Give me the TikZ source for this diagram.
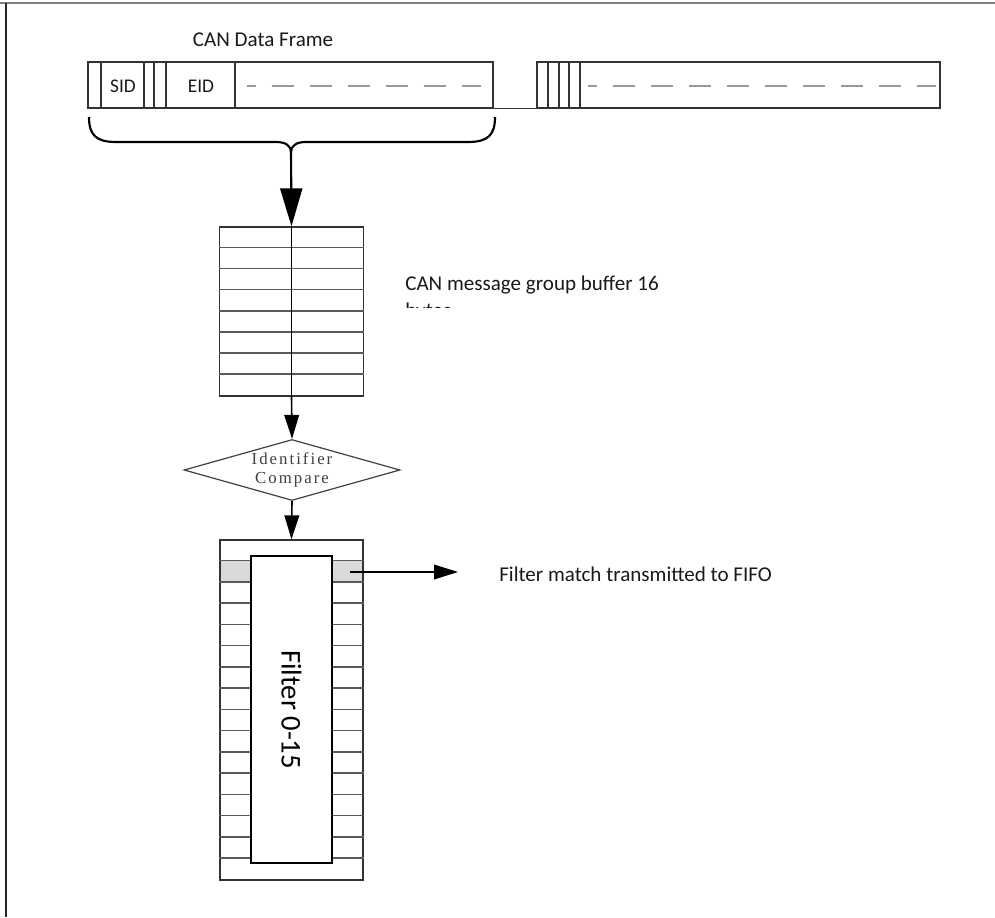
\documentclass[tikz,border=0pt]{standalone}
\usepackage{fontspec}
\setmainfont{Carlito}
\newfontfamily\idfont[LetterSpace=12]{Liberation Serif}
\usetikzlibrary{arrows.meta,shapes.geometric,calc}
\begin{document}
\begin{tikzpicture}[x=0.75pt,y=-0.75pt,
  frame/.style={draw=black!80, line width=0.9pt, inner sep=0, minimum height=34.5pt},
  divider/.style={draw=black!80, line width=0.9pt},
  dashfill/.style={draw=black!40, line width=1pt, dash pattern=on 16.5pt off 12pt, dash phase=10pt},
  rowline/.style={draw=black!65, line width=1.1pt},
  bigarrow/.style={-{Triangle[length=28.5pt,width=16.5pt]}, line width=1.6pt},
  smallarrow/.style={-{Triangle[length=18pt,width=11pt]}, line width=1.2pt},
  lbl/.style={font=\fontsize{15.8}{20}\selectfont, inner sep=0, text=black!90},
]
\useasboundingbox (0,0) rectangle (995,917);
% page border
\draw[black!50, line width=1.5pt] (0,3) -- (995,3);
\draw[black!85, line width=1.2pt] (6,3) -- (6,917);

% data frame
\node[lbl] (title) at (263,40) {CAN Data Frame};
\node[frame, minimum width=303.75pt] (f1) at (290.5,85) {};
\foreach \x in {101,144,154,166,235} \draw[divider] (\x,62) -- (\x,108);
\node[lbl, font=\fontsize{14.5}{17}\selectfont] (sid) at (123,86) {SID};
\node[lbl, font=\fontsize{14.5}{17}\selectfont] (eid) at (201,86) {EID};
\draw[dashfill] (247,86) -- (481,86);

\node[frame, minimum width=302.25pt] (f2) at (738.5,85) {};
\foreach \x in {548,559,569,580} \draw[divider] (\x,62) -- (\x,108);
\draw[dashfill] (588,86) -- (936,86);
\draw[divider] (f1.south east) -- (f2.south west);

% brace
\draw[line width=1.6pt] (89,117) .. controls (89,135) and (96,142) .. (116,142) -- (276,142)
  .. controls (286,142) and (291,146) .. (291,152)
  .. controls (291,146) and (296,142) .. (306,142) -- (468,142)
  .. controls (488,142) and (495,135) .. (495,117);
\coordinate (bracetip) at (291,150);

% buffer
\node[draw=black!80, line width=1pt, inner sep=0, minimum width=108pt, minimum height=126.75pt] (buf) at (291.5,311.5) {};
\foreach \i in {1,...,7}
  \draw[rowline] ($(buf.north west)+(0,21.125*\i)$) -- ($(buf.north east)+(0,21.125*\i)$);
\draw[line width=0.8pt] (buf.north) -- (buf.south);
\draw[bigarrow] (bracetip) -- (buf.north);

\begin{scope}
  \clip (400,255) rectangle (720,307);
  \node[lbl, anchor=north west, align=left, font=\fontsize{15.8}{20.25}\selectfont] (buftext) at (405,276) {CAN message group buffer 16\\bytes};
\end{scope}

% compare
\node[diamond, draw=black!75, line width=0.9pt, aspect=3.54, inner sep=0,
  minimum width=162pt, minimum height=45.75pt, align=center,
  font=\idfont\fontsize{12.6}{14.25}\selectfont, text=black!75] (cmp) at (292,470) {Identifier\\Compare};
\draw[smallarrow] (buf.south) -- (cmp.north);

% filters
\fill[black!15] (220,561.25) rectangle (363,582.5);
\node[draw=black!80, line width=1pt, inner sep=0, minimum width=107.25pt, minimum height=255pt] (filt) at (291.5,710) {};
\foreach \i in {1,...,15}
  \draw[rowline] ($(filt.north west)+(0,21.25*\i)$) -- ($(filt.north east)+(0,21.25*\i)$);
\node[draw=black, line width=1pt, fill=white, inner sep=0, rotate=-90,
  minimum width=230.25pt, minimum height=60.75pt, font=\fontsize{21.5}{25}\selectfont] (inner) at (291.5,709.5) {Filter 0-15};
\draw[smallarrow] (cmp.south) -- (filt.north);

\coordinate (bandpt) at (350,572);
\coordinate (arrowend) at (458,572);
\node[lbl, anchor=west] (fifo) at (499,574) {Filter match transmitted to FIFO};
\draw[smallarrow] (bandpt) -- (arrowend);
\end{tikzpicture}
\end{document}
